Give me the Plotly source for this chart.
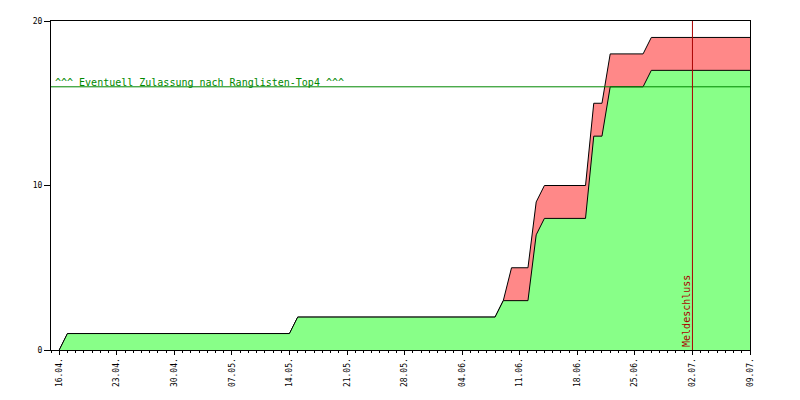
import plotly.graph_objects as go
from datetime import date, timedelta

# Data
green_dates = ["2024-04-16", "2024-04-17", "2024-05-14", "2024-05-15", "2024-06-08", "2024-06-09",
               "2024-06-12", "2024-06-13", "2024-06-14", "2024-06-19", "2024-06-20", "2024-06-21",
               "2024-06-22", "2024-06-26", "2024-06-27", "2024-07-09"]
green_values = [0, 1, 1, 2, 2, 3, 3, 7, 8, 8, 13, 13, 16, 16, 17, 17]

red_dates = ["2024-04-16", "2024-04-17", "2024-05-14", "2024-05-15", "2024-06-08", "2024-06-09",
             "2024-06-10", "2024-06-12", "2024-06-13", "2024-06-14", "2024-06-19", "2024-06-20",
             "2024-06-21", "2024-06-22", "2024-06-26", "2024-06-27", "2024-07-09"]
red_values = [0, 1, 1, 2, 2, 3, 5, 5, 9, 10, 10, 15, 15, 18, 18, 19, 19]

threshold = 16
threshold_label = "^^^ Eventuell Zulassung nach Ranglisten-Top4 ^^^"
deadline = "2024-07-02"
deadline_label = "Meldeschluss"

x_start = "2024-04-15"
x_end = "2024-07-09"

tick_dates = []
d = date(2024, 4, 16)
while d <= date(2024, 7, 9):
    tick_dates.append(d)
    d += timedelta(days=7)
tick_vals = [t.isoformat() for t in tick_dates]
tick_text = [t.strftime("%d.%m.") for t in tick_dates]

mono = "DejaVu Sans Mono"

fig = go.Figure()
fig.add_trace(go.Scatter(x=red_dates, y=red_values, mode="lines", fill="tozeroy",
                         fillcolor="#ff8888", line=dict(color="black", width=1),
                         hoverinfo="skip", showlegend=False))
fig.add_trace(go.Scatter(x=green_dates, y=green_values, mode="lines", fill="tozeroy",
                         fillcolor="#88ff88", line=dict(color="black", width=1),
                         hoverinfo="skip", showlegend=False))

fig.add_shape(type="line", xref="paper", yref="y", x0=0, x1=1, y0=threshold, y1=threshold,
              line=dict(color="#008800", width=1))
fig.add_shape(type="line", xref="x", yref="paper", x0=deadline, x1=deadline, y0=0, y1=1,
              line=dict(color="#aa0000", width=1))

fig.add_annotation(x=x_start, y=threshold, xref="x", yref="y", text=threshold_label,
                   showarrow=False, xanchor="left", yanchor="bottom", xshift=2, yshift=-3,
                   font=dict(family=mono, size=10, color="#008800"))
fig.add_annotation(x=deadline, y=0, xref="x", yref="y", text=deadline_label, textangle=-90,
                   showarrow=False, xanchor="right", yanchor="bottom", xshift=1, yshift=1,
                   font=dict(family=mono, size=10, color="#aa0000"))

fig.update_layout(
    width=800, height=400,
    margin=dict(l=43, r=58, t=9, b=58),
    paper_bgcolor="white", plot_bgcolor="white",
    font=dict(family=mono, size=8, color="black"),
    showlegend=False,
)
fig.update_xaxes(
    type="date", range=[x_start, x_end],
    tickmode="array", tickvals=tick_vals, ticktext=tick_text, tickangle=-90,
    ticks="outside", ticklen=4, tickcolor="black",
    showline=True, linecolor="black", linewidth=1, mirror=True,
    showgrid=False, zeroline=False,
    tickfont=dict(family=mono, size=8),
    minor=dict(ticks="outside", ticklen=2, tickcolor="black", dtick=86400000,
               tick0="2024-04-16", showgrid=False),
)
fig.update_yaxes(
    range=[0, 20], tickvals=[0, 10, 20],
    ticks="outside", ticklen=6, tickcolor="black",
    showline=True, linecolor="black", linewidth=1, mirror=True,
    showgrid=False, zeroline=False,
    tickfont=dict(family=mono, size=8),
)

fig.write_html("out.html")
